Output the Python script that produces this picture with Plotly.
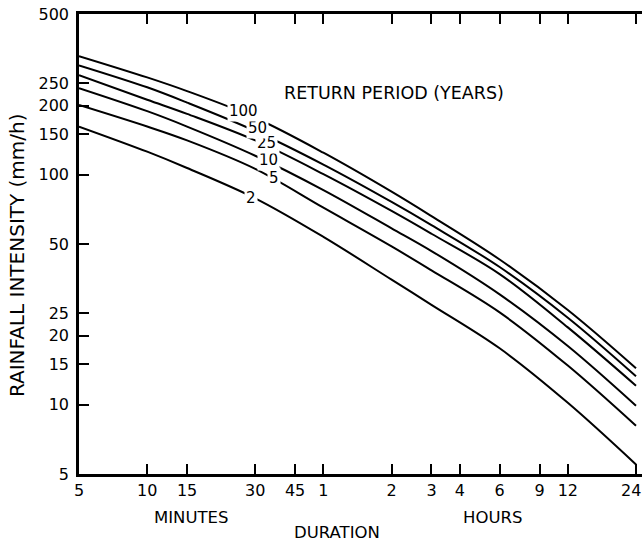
import numpy as np
import plotly.graph_objects as go

# Storm duration in minutes
duration_min = [5, 10, 15, 30, 60, 120, 180, 360, 720, 1440]

# Rainfall intensity (mm/h) for each return period (years)
intensity_2 = [162, 126, 107, 79, 53.7, 35.0, 27.2, 17.6, 10.2, 5.5]
intensity_5 = [201, 162, 141, 106, 71.9, 48.8, 38.4, 25.2, 14.8, 8.1]
intensity_10 = [238, 189, 162, 121, 85.8, 58.5, 46.6, 30.2, 18.0, 9.9]
intensity_25 = [271, 212, 184, 141, 100.6, 69.6, 55.4, 37.0, 21.7, 12.1]
intensity_50 = [299, 240, 206, 155, 110.7, 76.2, 60.4, 39.7, 23.9, 13.3]
intensity_100 = [328, 265, 231, 177, 124.7, 84.4, 66.1, 42.8, 25.8, 14.4]

return_periods = ["2", "5", "10", "25", "50", "100"]
series = [intensity_2, intensity_5, intensity_10, intensity_25, intensity_50, intensity_100]

# Curve label positions (duration in min, intensity in mm/h)
label_duration = [28.7, 36.3, 34.2, 33.8, 30.6, 26.7]
label_intensity = [79, 96.5, 116, 138, 160, 190]

# Axis ticks
x_tick_vals = [5, 10, 15, 30, 45, 60, 120, 180, 240, 360, 540, 720, 1440]
x_tick_text = ["5", "10", "15", "30", "45", "1", "2", "3", "4", "6", "9", "12", "24"]
y_tick_vals = [5, 10, 15, 20, 25, 50, 100, 150, 200, 250, 500]
y_tick_text = ["5", "10", "15", "20", "25", "50", "100", "150", "200", "250", "500"]
right_tick_vals = [376, 251, 213, 177, 147, 99, 50, 37, 25, 19.2, 14.8, 10]

FONT = "DejaVu Sans"

fig = go.Figure()
for name, vals in zip(return_periods, series):
    fig.add_trace(go.Scatter(
        x=duration_min, y=vals, mode="lines", name=name,
        line=dict(color="black", width=2, shape="spline", smoothing=1.0),
        showlegend=False, hoverinfo="skip", cliponaxis=False,
    ))

annotations = []
for name, d, v in zip(return_periods, label_duration, label_intensity):
    annotations.append(dict(
        x=np.log10(d), y=np.log10(v), xref="x", yref="y", text=name,
        xanchor="center", yanchor="middle",
        showarrow=False, font=dict(family=FONT, size=15, color="black"),
        bgcolor="white", borderpad=1,
    ))

# The last duration label sits at the right page edge, so it is right-aligned
annotations.append(dict(
    x=np.log10(x_tick_vals[-1]), y=-0.0348, xref="x", yref="paper",
    text=x_tick_text[-1], xanchor="right", yanchor="middle", xshift=7,
    showarrow=False, font=dict(family=FONT, size=16, color="black"),
))


def paper_text(x, y, text, size, angle=0):
    return dict(x=x, y=y, xref="paper", yref="paper", text=text,
                xanchor="center", yanchor="middle", textangle=angle,
                showarrow=False, font=dict(family=FONT, size=size, color="black"))


annotations += [
    paper_text(0.5595, 0.828, "RETURN PERIOD (YEARS)", 17.5),
    paper_text(-0.110, 0.476, "RAINFALL INTENSITY (mm/h)", 20, -90),
    paper_text(0.199, -0.0935, "MINUTES", 16.5),
    paper_text(0.7336, -0.0935, "HOURS", 16.5),
    paper_text(0.458, -0.128, "DURATION", 16.5),
]

fig.update_layout(
    width=644, height=543,
    margin=dict(l=79, r=2, t=14, b=69, autoexpand=False),
    paper_bgcolor="white", plot_bgcolor="white",
    annotations=annotations,
    xaxis=dict(
        type="log", range=[np.log10(5), np.log10(1440) + 0.0265],
        tickmode="array", tickvals=x_tick_vals,
        ticktext=x_tick_text[:-1] + [""],
        ticks="inside", ticklen=10, tickwidth=2, tickcolor="black",
        showline=True, linewidth=2.5, linecolor="black", mirror="ticks",
        showgrid=False, zeroline=False, automargin=False,
        tickfont=dict(family=FONT, size=16, color="black"),
    ),
    yaxis=dict(
        type="log", range=[np.log10(5), np.log10(500)],
        tickmode="array", tickvals=y_tick_vals, ticktext=y_tick_text,
        ticks="inside", ticklen=10, tickwidth=2, tickcolor="black",
        showline=True, linewidth=2.5, linecolor="black",
        showgrid=False, zeroline=False, automargin=False,
        tickfont=dict(family=FONT, size=16, color="black"),
        ticklabelstandoff=4,
    ),
    yaxis2=dict(
        type="log", range=[np.log10(5), np.log10(500)], overlaying="y",
        side="right", tickmode="array", tickvals=right_tick_vals,
        ticks="inside", ticklen=10, tickwidth=2, tickcolor="black",
        showticklabels=False, showline=True, linewidth=1, linecolor="black",
        showgrid=False, zeroline=False, automargin=False,
    ),
)

fig.write_html("out.html")
